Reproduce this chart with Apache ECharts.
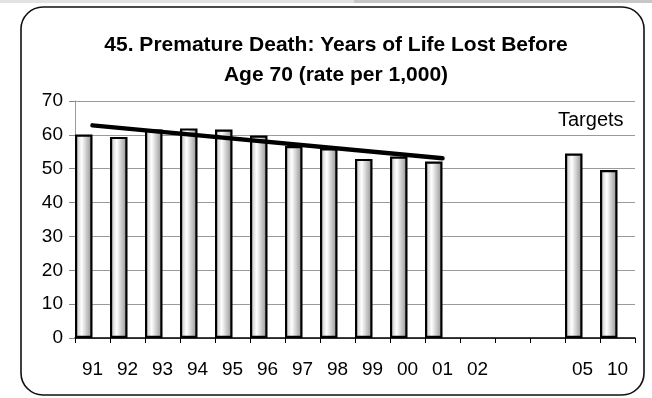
<!DOCTYPE html>
<html>
<head>
<meta charset="utf-8">
<script src="https://cdn.jsdelivr.net/npm/echarts@6/dist/echarts.min.js"></script>
<style>
  html, body { margin: 0; padding: 0; background: #ffffff; }
  #chart { width: 652px; height: 398px; }
</style>
</head>
<body>
<div id="chart"></div>
<script>
// Years shown on the category axis (two unlabeled gaps before the target years)
const years = ['91', '92', '93', '94', '95', '96', '97', '98', '99', '00', '01', '02', '', '', '05', '10'];
// Years of life lost before age 70, rate per 1,000
const rates = [60.1, 59.4, 61.6, 61.9, 61.6, 59.8, 56.7, 56.0, 52.9, 53.6, 52.1, null, null, null, 54.5, 49.6];
// Empty companion series so each bar sits in the left half of its slot
const spacer = [null, null, null, null, null, null, null, null, null, null, null, null, null, null, null, null];
// Trend line end points (1991 and 2001)
const trend = [62.8, null, null, null, null, null, null, null, null, null, 53.1, null, null, null, null, null];
// Value axis range
const yMin = 0, yMax = 70, yStep = 10;

const FONT = 'Arial, "Liberation Sans", sans-serif';

const barFill = {
  type: 'linear', x: 0, y: 0, x2: 1, y2: 0,
  colorStops: [
    { offset: 0, color: '#b8b8b8' },
    { offset: 0.38, color: '#ffffff' },
    { offset: 0.8, color: '#b0b0b0' },
    { offset: 1, color: '#868686' }
  ]
};

const chart = echarts.init(document.getElementById('chart'), null, { renderer: 'canvas' });

chart.setOption({
  backgroundColor: '#ffffff',
  animation: false,
  title: {
    text: '45. Premature Death: Years of Life Lost Before\nAge 70 (rate per 1,000)',
    left: 336,
    top: 30,
    padding: 0,
    textAlign: 'center',
    textStyle: { fontFamily: FONT, fontSize: 21, fontWeight: 'bold', color: '#000', lineHeight: 30 }
  },
  grid: { left: 75, right: 17, top: 101, bottom: 60, containLabel: false },
  xAxis: {
    type: 'category',
    data: years,
    axisLine: { show: true, lineStyle: { color: '#000', width: 1.5 } },
    axisTick: { show: true, alignWithLabel: false, interval: 0, length: 5, lineStyle: { color: '#000', width: 1 } },
    axisLabel: { interval: 0, margin: 22, color: '#000', fontFamily: FONT, fontSize: 19 },
    splitLine: { show: false }
  },
  yAxis: {
    type: 'value',
    min: yMin, max: yMax, interval: yStep,
    axisLine: { show: true, lineStyle: { color: '#999', width: 1 } },
    axisTick: { show: true, length: 6, lineStyle: { color: '#888', width: 1 } },
    axisLabel: { margin: 12, color: '#000', fontFamily: FONT, fontSize: 19 },
    splitLine: { show: true, lineStyle: { color: '#9a9a9a', width: 1 } }
  },
  series: [
    {
      type: 'bar',
      data: rates,
      barGap: '0%',
      barCategoryGap: '0%',
      itemStyle: { color: barFill, borderColor: '#000', borderWidth: 2.2 },
      z: 2
    },
    {
      type: 'bar',
      data: spacer,
      barGap: '0%',
      barCategoryGap: '0%',
      itemStyle: { color: 'transparent' }
    },
    {
      type: 'line',
      data: trend,
      connectNulls: true,
      symbol: 'none',
      lineStyle: { color: '#000', width: 4.5, cap: 'round' },
      z: 5
    }
  ],
  graphic: [
    { type: 'rect', shape: { x: 0, y: 0, width: 652, height: 3 }, style: { fill: '#e2e2e2' }, silent: true },
    { type: 'rect', shape: { x: 354, y: 0, width: 298, height: 3 }, style: { fill: '#c6c6c6' }, silent: true },
    {
      type: 'rect',
      shape: { x: 21, y: 7, width: 623, height: 388, r: 22 },
      style: { fill: 'none', stroke: '#111', lineWidth: 1.6 },
      silent: true
    },
    {
      type: 'text',
      left: 558, top: 110,
      style: { text: 'Targets', fontFamily: FONT, fontSize: 20, fill: '#000' },
      silent: true
    }
  ]
});
</script>
</body>
</html>
